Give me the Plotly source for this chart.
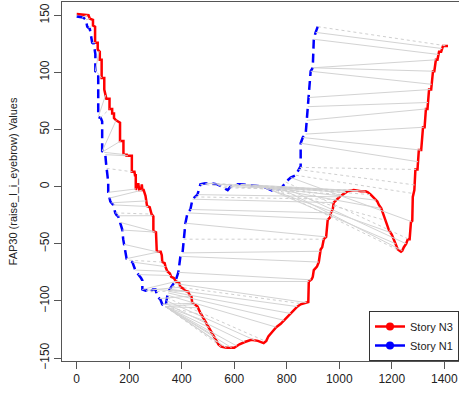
import plotly.graph_objects as go
import numpy as np

# ---- data ----
red_idx = [0, 45, 50, 62, 62, 70, 70, 80, 80, 88, 88, 95, 95, 105, 105, 113, 125, 125, 135, 135,
           142, 142, 150, 160, 165, 165, 178, 178, 190, 190, 210, 210, 220, 222, 225, 225, 230, 235,
           238, 245, 248, 250, 255, 262, 268, 278, 285, 292, 292, 302, 305, 320, 324, 326, 335, 338,
           345, 355, 360, 370, 378, 390, 395, 405, 412, 425, 430, 437, 440, 450, 460, 470, 485, 500,
           515, 525, 540, 550, 570, 600, 620, 640, 665, 690, 712, 722, 730, 745, 760, 777, 790, 803,
           815, 826, 840, 853, 868, 882, 884, 895, 899, 903, 915, 922, 929, 935, 941, 950, 956, 965,
           968, 975, 979, 987, 994, 1005, 1013, 1032, 1055, 1082, 1100, 1109, 1120, 1132, 1145, 1151,
           1160, 1166, 1172, 1177, 1183, 1189, 1200, 1208, 1215, 1223, 1235, 1240, 1246, 1255, 1261,
           1268, 1273, 1278, 1280, 1284, 1286, 1290, 1298, 1303, 1312, 1319, 1325, 1330, 1336, 1342,
           1350, 1357, 1362, 1368, 1374, 1380, 1388, 1395, 1414]
red_val = [151, 150, 147, 146, 141, 140, 126, 126, 120, 118, 111, 111, 95, 95, 85, 77, 77, 68, 68, 64,
           64, 60, 58, 57, 56, 40, 40, 28, 28, 27, 27, 13, 13, 10, 10, -3, 2, 2,
           -3, -3, 2, -3, -3, -8, -17, -18, -24, -26, -39, -40, -57, -57, -60, -66, -67, -70,
           -74, -76, -79, -80, -83, -84, -88, -89, -91, -92, -95, -96, -102, -103, -105, -110, -116, -121,
           -128, -132, -138, -140, -141, -141, -138, -136, -134, -135, -137, -135, -131, -127, -123, -120, -117, -114,
           -111, -108, -105, -103, -102, -101, -83, -81, -79, -73, -70, -66, -55, -53, -46, -44, -29, -27,
           -23, -20, -14, -12, -10, -8, -7, -4, -3, -4, -4, -5, -7, -10, -13, -16,
           -19, -23, -27, -31, -35, -38, -42, -46, -50, -55, -57, -56, -53, -50, -46,
           -46, -31, -30, -9, -3, -3, 15, 15, 32, 32, 52, 52, 68, 68, 85,
           85, 101, 101, 111, 111, 118, 118, 123, 123]

blue_idx = [0, 25, 35, 40, 50, 59, 65, 71, 71, 78, 82, 82, 92, 97, 97, 105, 109, 112, 116, 120, 120,
            128, 135, 139, 147, 152, 158, 174, 177, 185, 190, 197, 205, 212, 223, 230, 235, 245, 250,
            250, 262, 275, 281, 290, 300, 307, 315, 319, 326, 338, 345, 349, 365, 376, 387, 395, 403,
            407, 414, 422, 433, 441, 452, 460, 471, 490, 510, 536, 559, 575, 586, 605, 624, 662, 712,
            730, 750, 770, 784, 796, 815, 834, 845, 853, 853, 861, 872, 880, 884, 891, 899, 903, 910, 918]
blue_val = [149, 148, 146, 140, 138, 126, 125, 116, 101, 100, 100, 61, 60, 57, 31, 30, 28, 20, 12, 4, -5,
            -13, -15, -16, -23, -25, -26, -38, -46, -58, -63, -64, -65, -66, -73, -76, -77, -80, -82,
            -90, -91, -90, -92, -90, -90, -96, -98, -99, -103, -105, -96, -92, -86, -83, -75, -61, -58,
            -46, -32, -23, -20, -11, -9, -7, 2, 3, 3, 2, -1, -3, 0, 2, 2, 1, 0,
            -2, -4, -2, 0, 4, 8, 10, 15, 18, 38, 43, 46, 70, 78, 101, 104, 129, 135, 140]

# warping-path pairs (blue index, red index)
match_blue = [0, 20, 35, 45, 59, 71, 78, 82, 90, 97, 100, 105, 109, 114, 120,
              125, 132, 139, 147, 155, 165, 174, 180, 190, 200, 212, 223, 235, 250, 265, 281, 300, 315, 326, 338,
              338, 338, 338, 338, 338, 338, 338, 338, 338, 338,
              340, 342, 344, 346, 348, 350, 355, 362, 370, 376, 387, 395, 403, 407, 414, 422, 433, 441, 452, 460,
              471, 490, 510, 536, 559, 586, 605, 624, 650, 680, 700, 712, 730, 745, 760, 775, 784, 796, 815, 834, 845,
              850, 853, 861, 872, 876, 880, 884, 891, 899, 899, 903, 910, 918]
match_red = [0, 40, 50, 65, 72, 85, 95, 110, 125, 150, 168, 185, 195, 212, 226,
             250, 265, 272, 285, 290, 295, 300, 305, 315, 326, 338, 346, 358, 378, 395, 412, 425, 435, 441, 450,
             462, 475, 490, 505, 520, 535, 550, 570, 590, 610,
             640, 680, 720, 760, 790, 815, 840, 860, 875, 884, 892, 922, 928, 941, 950, 958, 968, 979, 990, 1000,
             1013, 1025, 1032, 1045, 1055, 1070, 1082, 1100, 1120, 1140, 1160, 1175, 1195, 1215, 1230, 1240, 1255,
             1265, 1275, 1282, 1287,
             1292, 1300, 1310, 1322, 1330, 1338, 1346, 1352, 1360, 1368, 1378, 1392, 1414]

x_ticks = [0, 200, 400, 600, 800, 1000, 1200, 1400]
y_ticks = [-150, -100, -50, 0, 50, 100, 150]

# ---- figure ----
dotted_set = {3, 8, 13, 18, 24, 30, 36, 41, 47, 52, 58, 63, 65, 67, 69, 71, 73, 76, 79, 82, 84, 85, 86, 98}

sx, sy, dx, dy = [], [], [], []
for k, (b, r) in enumerate(zip(match_blue, match_red)):
    yb = float(np.interp(b, blue_idx, blue_val))
    yr = float(np.interp(r, red_idx, red_val))
    if k in dotted_set:
        dx += [b, r, None]; dy += [yb, yr, None]
    else:
        sx += [b, r, None]; sy += [yb, yr, None]

fig = go.Figure()
fig.add_trace(go.Scatter(x=red_idx, y=red_val, mode="lines",
                         line=dict(color="#ff0000", width=2.5), showlegend=False, hoverinfo="skip"))
fig.add_trace(go.Scatter(x=blue_idx, y=blue_val, mode="lines",
                         line=dict(color="#0000ff", width=2.5, dash="9px,5px"), showlegend=False, hoverinfo="skip"))
fig.add_trace(go.Scatter(x=sx, y=sy, mode="lines", line=dict(color="#d3d3d3", width=1),
                         showlegend=False, hoverinfo="skip"))
fig.add_trace(go.Scatter(x=dx, y=dy, mode="lines", line=dict(color="#cfcfcf", width=1, dash="dot"),
                         showlegend=False, hoverinfo="skip"))
fig.add_trace(go.Scatter(x=[None], y=[None], mode="lines+markers", name="Story N3",
                         line=dict(color="#ff0000", width=2.5), marker=dict(color="#ff0000", size=8)))
fig.add_trace(go.Scatter(x=[None], y=[None], mode="lines+markers", name="Story N1",
                         line=dict(color="#0000ff", width=2.5), marker=dict(color="#0000ff", size=8)))

axis_common = dict(showgrid=False, zeroline=False, showline=True, mirror=True, automargin=False,
                   linecolor="#555555", linewidth=1, ticks="outside", ticklen=7,
                   tickcolor="#555555", tickfont=dict(family="Liberation Sans, Arial", size=12, color="#222222"))

fig.update_layout(
    width=459, height=394,
    margin=dict(l=62, r=0, t=2, b=33, autoexpand=False),
    paper_bgcolor="white", plot_bgcolor="white",
    font=dict(family="Liberation Sans, Arial", size=12, color="#222222"),
    xaxis=dict(range=[-56, 1456], tickvals=x_ticks, **axis_common),
    yaxis=dict(range=[-152.6, 161.6], tickvals=y_ticks, tickangle=-90,
               title=dict(text="FAP30 (raise_l_i_eyebrow) Values", standoff=18,
                          font=dict(size=11)), **axis_common),
    legend=dict(x=1.0, xanchor="right", y=0, yanchor="bottom", bgcolor="white",
                bordercolor="#333333", borderwidth=1, font=dict(size=11),
                itemwidth=30, tracegroupgap=0),
)

fig.write_html("out.html", config={"displayModeBar": False},
               post_script="document.body.style.margin='0';document.body.style.overflow='hidden';")
